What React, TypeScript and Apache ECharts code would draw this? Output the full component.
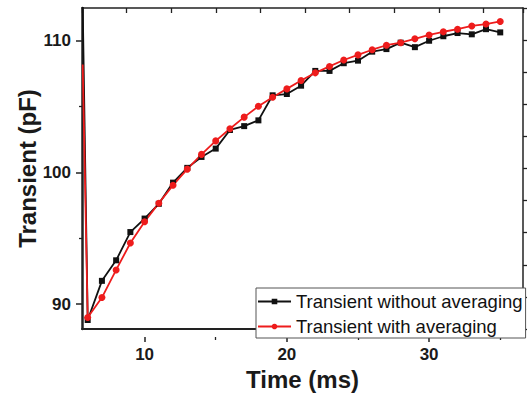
import React, { useEffect, useRef } from 'react';
import * as echarts from 'echarts';

// ---- data ----
const timeMs = [6, 7, 8, 9, 10, 11, 12, 13, 14, 15, 16, 17, 18, 19, 20, 21, 22, 23, 24, 25, 26, 27, 28, 29, 30, 31, 32, 33, 34, 35];
const withoutAveraging = [88.2, 91.25, 92.85, 95.05, 96.1, 97.25, 98.9, 100.05, 100.9, 101.55, 103.0, 103.3, 103.75, 105.7, 105.8, 106.45, 107.6, 107.6, 108.2, 108.4, 109.1, 109.3, 109.8, 109.45, 109.95, 110.3, 110.55, 110.45, 110.85, 110.6];
const withAveraging = [88.4, 89.95, 92.1, 94.2, 95.85, 97.3, 98.7, 99.95, 101.1, 102.15, 103.1, 104.0, 104.85, 105.55, 106.2, 106.85, 107.45, 107.95, 108.45, 108.85, 109.25, 109.6, 109.8, 110.1, 110.4, 110.65, 110.85, 111.1, 111.25, 111.45];
// leading point of each trace (at the left edge, no marker)
const leadTime = 5.65;
const leadWithout = 112.6;
const leadWith = 108.1;

const seriesNames = ['Transient without averaging', 'Transient with averaging'];
const xTickLabels = ['10', '20', '30'];
const yTickLabels = ['90', '100', '110'];

// ---- axis ranges ----
const X_MIN = 5.6;
const X_MAX = 36.6;
const Y_MIN = 87.5;
const Y_MAX = 112.5;
const TOP_TICK_STEP = 3.135;

// ---- layout (pixels) ----
const W = 529;
const H = 396;
const PLOT_L = 82;
const PLOT_R = 523;
const PLOT_T = 8;
const PLOT_B = 337;

const FONT = '"Liberation Sans", Arial, Helvetica, sans-serif';

export default function App() {
  const ref = useRef<HTMLDivElement>(null);

  useEffect(() => {
    if (!ref.current) return;
    const chart = echarts.init(ref.current, undefined, { renderer: 'svg', width: W, height: H });

    const pxX = (PLOT_R - PLOT_L) / (X_MAX - X_MIN);
    const pxY = (PLOT_B - PLOT_T) / (Y_MAX - Y_MIN);
    const xPix = (v: number) => PLOT_L + (v - X_MIN) * pxX;
    const yPix = (v: number) => PLOT_T + (Y_MAX - v) * pxY;

    // major x ticks 10..30, minor x ticks 15..35, y ticks 90..110
    const mx0 = 10, mx1 = 30, nx0 = 15, nx1 = 35, ty0 = 90, ty1 = 110;
    const gTop = yPix(ty1);
    const gHeight = yPix(ty0) - yPix(ty1);
    const xOffset = PLOT_B - yPix(ty0);

    const labelStyle = {
      fontFamily: FONT,
      fontWeight: 'bold' as const,
      fontSize: 17,
      color: '#1a1a1a',
    };
    const tickLine = { color: '#222', width: 1.5 };

    const mk = (ys: number[], lead: number) => [
      { value: [leadTime, lead], symbol: 'none' },
      ...timeMs.map((t, i) => [t, ys[i]]),
    ];

    chart.setOption({
      animation: false,
      backgroundColor: '#ffffff',
      grid: [
        { left: PLOT_L, top: PLOT_T, width: PLOT_R - PLOT_L, height: PLOT_B - PLOT_T, containLabel: false },
        { left: xPix(mx0), top: gTop, width: xPix(mx1) - xPix(mx0), height: gHeight, containLabel: false },
        { left: xPix(nx0), top: gTop, width: xPix(nx1) - xPix(nx0), height: gHeight, containLabel: false },
      ],
      xAxis: [
        {
          gridIndex: 0,
          type: 'value',
          min: X_MIN,
          max: X_MAX,
          position: 'bottom',
          axisLine: { show: true, lineStyle: { color: '#222', width: 2 } },
          axisTick: { show: false },
          axisLabel: { show: false },
          splitLine: { show: false },
          name: 'Time (ms)',
          nameLocation: 'middle',
          nameGap: 38,
          nameTextStyle: { fontFamily: FONT, fontWeight: 'bold', fontSize: 24, color: '#1a1a1a' },
        },
        {
          gridIndex: 0,
          type: 'value',
          min: X_MIN,
          max: X_MAX,
          interval: TOP_TICK_STEP,
          position: 'top',
          axisLine: { show: true, lineStyle: { color: '#222', width: 1.5 } },
          axisTick: { show: true, inside: true, length: 5, lineStyle: { color: '#222', width: 1.3 } },
          axisLabel: { show: false },
          splitLine: { show: false },
        },
        {
          gridIndex: 1,
          type: 'value',
          min: mx0,
          max: mx1,
          interval: 10,
          position: 'bottom',
          offset: xOffset,
          axisLine: { show: false },
          axisTick: { show: true, length: 5, lineStyle: tickLine },
          axisLabel: {
            ...labelStyle,
            margin: 9,
            formatter: (v: number) => (xTickLabels.includes(String(v)) ? String(v) : ''),
          },
          splitLine: { show: false },
        },
        {
          gridIndex: 2,
          type: 'value',
          min: nx0,
          max: nx1,
          interval: 10,
          position: 'bottom',
          offset: xOffset,
          axisLine: { show: false },
          axisTick: { show: true, length: 3, lineStyle: { color: '#222', width: 1.3 } },
          axisLabel: { show: false },
          splitLine: { show: false },
        },
      ],
      yAxis: [
        {
          gridIndex: 0,
          type: 'value',
          min: Y_MIN,
          max: Y_MAX,
          position: 'left',
          axisLine: { show: true, lineStyle: { color: '#222', width: 2.5 } },
          axisTick: { show: false },
          axisLabel: { show: false },
          splitLine: { show: false },
          name: 'Transient (pF)',
          nameLocation: 'middle',
          nameGap: 43,
          nameTextStyle: { fontFamily: FONT, fontWeight: 'bold', fontSize: 24, color: '#1a1a1a' },
        },
        {
          gridIndex: 0,
          type: 'value',
          min: Y_MIN,
          max: Y_MAX,
          interval: 2.5,
          position: 'right',
          axisLine: { show: true, lineStyle: { color: '#222', width: 1.5 } },
          axisTick: { show: true, inside: false, length: 4, lineStyle: { color: '#222', width: 1.3 } },
          axisLabel: { show: false },
          splitLine: { show: false },
        },
        {
          gridIndex: 1,
          type: 'value',
          min: ty0,
          max: ty1,
          interval: 10,
          position: 'left',
          offset: xPix(mx0) - PLOT_L,
          axisLine: { show: false },
          axisTick: { show: true, length: 6, lineStyle: tickLine },
          minorTick: { show: true, splitNumber: 2, length: 3, lineStyle: { color: '#222', width: 1.3 } },
          axisLabel: {
            ...labelStyle,
            margin: 11,
            formatter: (v: number) => (yTickLabels.includes(String(v)) ? String(v) : ''),
          },
          splitLine: { show: false },
        },
        {
          gridIndex: 2,
          type: 'value',
          min: ty0,
          max: ty1,
          show: false,
        },
      ],
      legend: {
        orient: 'vertical',
        left: 256,
        top: 288,
        data: seriesNames,
        backgroundColor: '#ffffff',
        borderColor: '#555',
        borderWidth: 1,
        padding: [3, 3, 1, 1],
        itemWidth: 33,
        itemHeight: 7,
        itemGap: 4,
        textStyle: { fontFamily: FONT, fontSize: 18.5, color: '#111', lineHeight: 21 },
        z: 10,
      },
      series: [
        {
          name: seriesNames[0],
          type: 'line',
          xAxisIndex: 0,
          yAxisIndex: 0,
          data: mk(withoutAveraging, leadWithout),
          symbol: 'rect',
          symbolSize: 6,
          showAllSymbol: true,
          lineStyle: { color: '#111', width: 1.8 },
          itemStyle: { color: '#111' },
          clip: true,
        },
        {
          name: seriesNames[1],
          type: 'line',
          xAxisIndex: 0,
          yAxisIndex: 0,
          data: mk(withAveraging, leadWith),
          symbol: 'circle',
          symbolSize: 7,
          showAllSymbol: true,
          lineStyle: { color: '#ee1c1c', width: 1.8 },
          itemStyle: { color: '#ee1c1c' },
          clip: true,
        },
      ],
    });

    return () => chart.dispose();
  }, []);

  return (
    <div
      ref={ref}
      style={{ position: 'fixed', left: 0, top: 0, width: W, height: H, background: '#fff' }}
    />
  );
}
